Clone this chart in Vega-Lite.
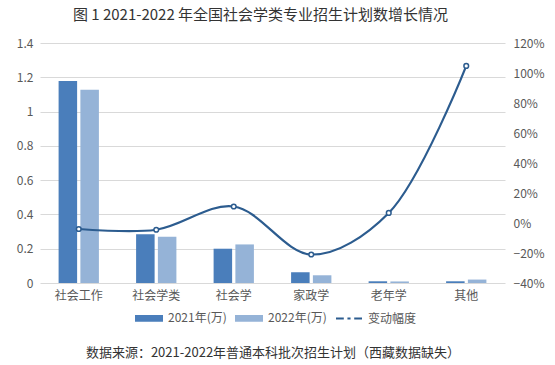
{
  "$schema": "https://vega.github.io/schema/vega-lite/v6.json",
  "width": 465,
  "height": 240,
  "autosize": {"type": "none"},
  "padding": {"left": 40, "top": 43, "right": 50, "bottom": 82},
  "background": "white",
  "title": {
    "text": "图  1 2021-2022 年全国社会学类专业招生计划数增长情况",
    "anchor": "middle",
    "frame": "group",
    "dx": -12,
    "offset": 14,
    "font": "Noto Sans CJK SC",
    "fontSize": 15,
    "fontWeight": "normal",
    "color": "#333333"
  },
  "config": {
    "view": {"stroke": null},
    "font": "Noto Sans CJK SC",
    "axis": {
      "labelFont": "Noto Sans CJK SC",
      "labelFontSize": 12,
      "labelColor": "#595959",
      "domain": false,
      "ticks": false
    }
  },
  "datasets": {
    "bars": [
      {"category": "社会工作", "year": "2021年(万)", "value": 1.178},
      {"category": "社会工作", "year": "2022年(万)", "value": 1.127},
      {"category": "社会学类", "year": "2021年(万)", "value": 0.285},
      {"category": "社会学类", "year": "2022年(万)", "value": 0.27},
      {"category": "社会学", "year": "2021年(万)", "value": 0.2},
      {"category": "社会学", "year": "2022年(万)", "value": 0.225},
      {"category": "家政学", "year": "2021年(万)", "value": 0.062},
      {"category": "家政学", "year": "2022年(万)", "value": 0.045},
      {"category": "老年学", "year": "2021年(万)", "value": 0.01},
      {"category": "老年学", "year": "2022年(万)", "value": 0.009},
      {"category": "其他", "year": "2021年(万)", "value": 0.01},
      {"category": "其他", "year": "2022年(万)", "value": 0.02}
    ],
    "change": [
      {"category": "社会工作", "change": -0.04},
      {"category": "社会学类", "change": -0.045},
      {"category": "社会学", "change": 0.11},
      {"category": "家政学", "change": -0.21},
      {"category": "老年学", "change": 0.067},
      {"category": "其他", "change": 1.047}
    ]
  },
  "encoding": {
    "x": {
      "field": "category",
      "type": "nominal",
      "sort": ["社会工作", "社会学类", "社会学", "家政学", "老年学", "其他"],
      "scale": {"paddingInner": 0.48, "paddingOuter": 0.24},
      "axis": {
        "title": "数据来源：2021-2022年普通本科批次招生计划（西藏数据缺失）",
        "titleFont": "Noto Sans CJK SC",
        "titleFontSize": 13,
        "titleFontWeight": "normal",
        "titleColor": "#333333",
        "titleY": 69,
        "titleBaseline": "middle",
        "labelPadding": 7,
        "labelAngle": 0,
        "grid": false
      }
    }
  },
  "layer": [
    {
      "data": {"name": "bars"},
      "mark": {"type": "bar"},
      "encoding": {
        "xOffset": {
          "field": "year",
          "type": "nominal",
          "scale": {"paddingInner": 0.15}
        },
        "y": {
          "field": "value",
          "type": "quantitative",
          "scale": {"domain": [0, 1.4], "nice": false},
          "axis": {
            "title": null,
            "values": [0, 0.2, 0.4, 0.6, 0.8, 1, 1.2, 1.4],
            "format": "~g",
            "grid": true,
            "gridColor": "#D9D9D9",
            "labelPadding": 7
          }
        },
        "color": {
          "field": "year",
          "type": "nominal",
          "scale": {
            "domain": ["2021年(万)", "2022年(万)", "变动幅度"],
            "range": ["#4A7EBB", "#95B3D7", "#2C5C8F"]
          },
          "legend": {
            "title": null,
            "orient": "none",
            "direction": "horizontal",
            "legendX": 95,
            "legendY": 261,
            "symbolSize": 676,
            "labelFont": "Noto Sans CJK SC",
            "labelFontSize": 12,
            "labelColor": "#595959",
            "labelOffset": 5,
            "columnPadding": 5,
            "encode": {
              "symbols": {
                "update": {
                  "shape": {"signal": "datum.value === '变动幅度' ? 'M-1,0H-0.4M-0.12,0H0.12M0.4,0H1' : 'M-1,-0.18H1V0.18H-1Z'"},
                  "fill": {"signal": "datum.value === '变动幅度' ? 'transparent' : (datum.value === '2021年(万)' ? '#4A7EBB' : '#95B3D7')"},
                  "stroke": {"signal": "datum.value === '变动幅度' ? '#2C5C8F' : 'transparent'"},
                  "strokeWidth": {"value": 2},
                  "opacity": {"value": 1}
                }
              }
            }
          }
        }
      }
    },
    {
      "data": {"name": "change"},
      "mark": {"type": "line", "interpolate": "catmull-rom", "strokeWidth": 2.2},
      "encoding": {
        "y": {
          "field": "change",
          "type": "quantitative",
          "scale": {"domain": [-0.4, 1.2], "nice": false},
          "axis": {
            "orient": "right",
            "title": null,
            "values": [-0.4, -0.2, 0, 0.2, 0.4, 0.6, 0.8, 1, 1.2],
            "format": ".0%",
            "grid": false,
            "labelPadding": 8
          }
        },
        "color": {"datum": "变动幅度"}
      }
    },
    {
      "data": {"name": "change"},
      "mark": {"type": "point", "filled": true, "fill": "white", "stroke": "#2C5C8F", "strokeWidth": 1.5, "size": 22, "opacity": 1},
      "encoding": {
        "y": {"field": "change", "type": "quantitative", "scale": {"domain": [-0.4, 1.2], "nice": false}, "axis": null}
      }
    }
  ],
  "resolve": {"scale": {"y": "independent"}}
}
